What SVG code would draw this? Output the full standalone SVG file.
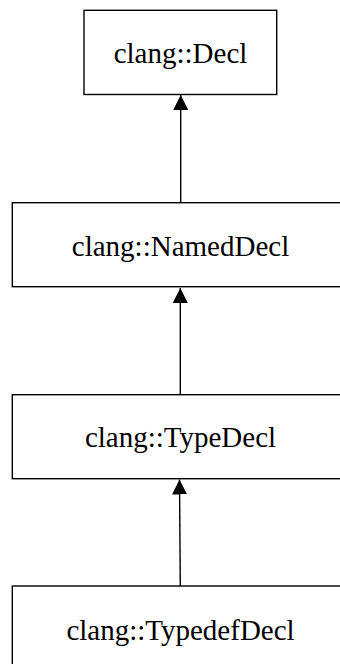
<svg xmlns="http://www.w3.org/2000/svg" width="340" height="664" viewBox="0 0 340 664">
<style>
.box{fill:#fff;stroke:#000;stroke-width:1.4}
.lbl{font-family:"Liberation Serif","Times New Roman",serif;font-size:29px;text-anchor:middle;fill:#000}
.edge{stroke:#000;stroke-width:1.4;fill:none}
</style>
<defs>
<marker id="ah" markerWidth="15" markerHeight="15" viewBox="0 0 15 15" refX="15" refY="7.5" orient="auto" markerUnits="userSpaceOnUse">
<path d="M0,0 L15,7.5 L0,15 z" fill="#000"/>
</marker>
</defs>
<rect width="340" height="664" fill="#fff"/>
<g id="connectors">
<line class="edge" x1="180.7" y1="202.7" x2="180.7" y2="95" marker-end="url(#ah)"/>
<line class="edge" x1="180.3" y1="394.7" x2="180.3" y2="288" marker-end="url(#ah)"/>
<line class="edge" x1="180.3" y1="586" x2="179.5" y2="479.5" marker-end="url(#ah)"/>
</g>
<g id="decl">
<rect class="box" x="84" y="10.3" width="192.7" height="84.2"/>
<text class="lbl" x="180.5" y="63">clang::Decl</text>
</g>
<g id="nameddecl">
<rect class="box" x="12.3" y="202.7" width="337" height="84"/>
<text class="lbl" x="180.5" y="255.5">clang::NamedDecl</text>
</g>
<g id="typedecl">
<rect class="box" x="12.3" y="394.7" width="337" height="84"/>
<text class="lbl" x="180.5" y="446.7">clang::TypeDecl</text>
</g>
<g id="typedefdecl">
<rect class="box" x="12.3" y="586" width="337" height="84"/>
<text class="lbl" x="180.5" y="639.5">clang::TypedefDecl</text>
</g>
</svg>
